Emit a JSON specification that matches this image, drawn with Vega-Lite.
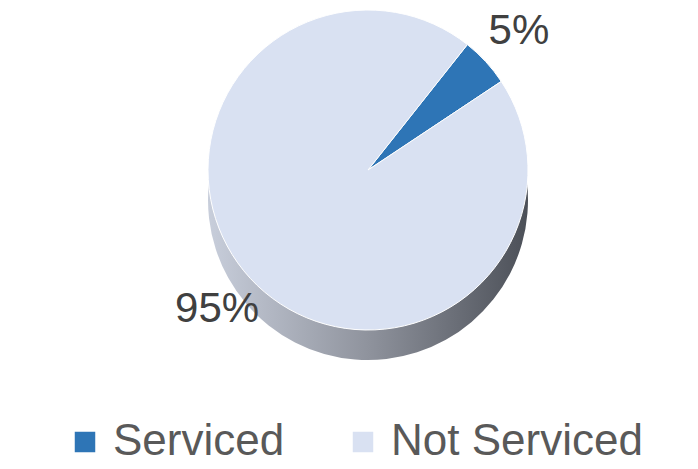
{
  "$schema": "https://vega.github.io/schema/vega-lite/v6.json",
  "width": 660,
  "height": 340,
  "autosize": "none",
  "padding": {"left": 38, "top": 0, "right": 0, "bottom": 129},
  "background": "white",
  "config": {"view": {"stroke": null}},
  "data": {
    "values": [
      {"status": "Serviced", "pct": 5, "label": "5%", "order": 1},
      {"status": "Not Serviced", "pct": 95, "label": "95%", "order": 2}
    ]
  },
  "layer": [
    {
      "mark": {
        "type": "arc",
        "outerRadius": 160,
        "yOffset": 30,
        "color": {
          "gradient": "linear",
          "x1": 0, "y1": 0, "x2": 1, "y2": 0,
          "stops": [
            {"offset": 0, "color": "#C8CEDB"},
            {"offset": 0.5, "color": "#8F939D"},
            {"offset": 1, "color": "#4C5058"}
          ]
        }
      },
      "encoding": {
        "theta": {"aggregate": "sum", "field": "pct", "type": "quantitative", "scale": {"domain": [0, 100], "range": [0.67, 6.9532]}}
      }
    },
    {
      "mark": {"type": "arc", "outerRadius": 160, "stroke": "#ffffff", "strokeWidth": 1},
      "encoding": {
        "theta": {"field": "pct", "type": "quantitative", "stack": true},
        "order": {"field": "order", "type": "quantitative"},
        "color": {
          "field": "status",
          "type": "nominal",
          "scale": {"domain": ["Serviced", "Not Serviced"], "range": ["#2E75B6", "#D9E1F2"]},
          "legend": {
            "title": null,
            "orient": "none",
            "direction": "horizontal",
            "legendX": 25,
            "legendY": 420,
            "symbolType": "square",
            "symbolSize": 420,
            "symbolStrokeWidth": 0,
            "labelFont": "Liberation Sans",
            "labelFontSize": 44,
            "labelColor": "#595959",
            "labelLimit": 500,
            "labelOffset": 6,
            "columnPadding": 56
          }
        }
      }
    },
    {
      "mark": {"type": "text", "radius": 205, "font": "Liberation Sans", "fontSize": 42, "color": "#404040"},
      "encoding": {
        "theta": {"field": "pct", "type": "quantitative", "stack": true},
        "order": {"field": "order", "type": "quantitative"},
        "text": {"field": "label", "type": "nominal"}
      }
    }
  ]
}
